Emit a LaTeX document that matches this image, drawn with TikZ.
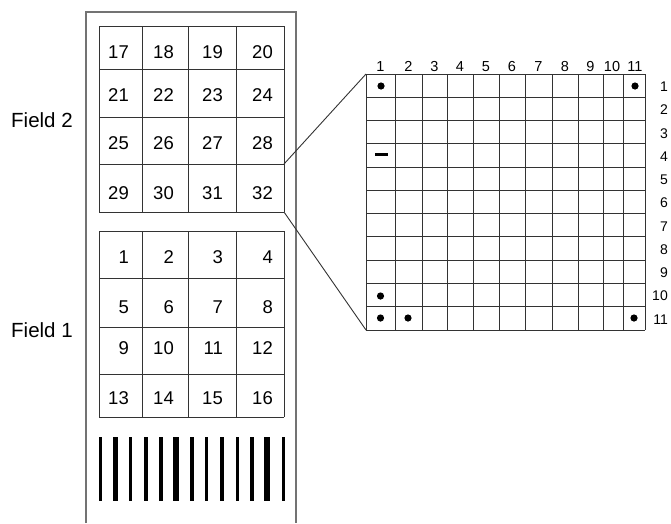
\documentclass[tikz,border=0pt]{standalone}
\usepackage{fontspec}
\setmainfont{Liberation Sans}
\begin{document}
\begin{tikzpicture}[x=1pt,y=-1pt,
  gridline/.style={draw=black!80,line width=0.9pt},
  slideline/.style={draw=black!55,line width=1.4pt},
  zoomline/.style={draw=black!80,line width=0.9pt},
  cellnum/.style={anchor=east,inner sep=0pt,font=\fontsize{18.5}{19}\selectfont},
  fieldlab/.style={anchor=west,inner sep=0pt,font=\fontsize{20.5}{21}\selectfont},
  collab/.style={inner sep=0pt,font=\fontsize{14.5}{15}\selectfont},
  rowlab/.style={anchor=east,inner sep=0pt,font=\fontsize{14}{15}\selectfont},
  spot/.style={fill=black},
  bar/.style={fill=black}]
\useasboundingbox (0,0) rectangle (671,523);
% slide outline (open bottom)
\draw[slideline] (86,523) -- (86,12) -- (296,12) -- (296,523);
% field 2 grid
\foreach \x in {99,142,188,236,284} \draw[gridline] (\x,26) -- (\x,212);
\foreach \y in {26,69,117,164,212} \draw[gridline] (99,\y) -- (284,\y);
% field 1 grid
\foreach \x in {99,142,188,236,284} \draw[gridline] (\x,231) -- (\x,417);
\foreach \y in {231,278,327,374,417} \draw[gridline] (99,\y) -- (284,\y);
% numbers field 2
\foreach \n/\y [count=\r] in {17/52,21/95,25/143,29/193}{
  \foreach \x [count=\c from 0] in {129,174,223,273}{
    \pgfmathtruncatemacro{\v}{\n+\c}
    \node[cellnum] (f2n\v) at (\x,\y) {\v};
  }
}
% numbers field 1
\foreach \n/\y in {1/257,5/307,9/348,13/398}{
  \foreach \x [count=\c from 0] in {129,174,223,273}{
    \pgfmathtruncatemacro{\v}{\n+\c}
    \node[cellnum] (f1n\v) at (\x,\y) {\v};
  }
}
\node[fieldlab] (field2) at (11,120) {Field 2};
\node[fieldlab] (field1) at (11,330) {Field 1};
% barcode
\foreach \cx/\w [count=\i] in {100.7/2.7,115.3/5.3,130.7/2.7,146/4,161/4,176/5.3,191.7/4,206.7/3.3,222/4.7,237.3/3.3,252.3/4,267.3/6,283.3/3.3}
  \fill[bar] (\cx-\w/2,437) rectangle (\cx+\w/2,501);
% big grid
\def\gtop{74}\def\gbot{330}
\foreach \x in {366,395,422,447,473,499,525,552,578,603,623,645} \draw[gridline] (\x,\gtop) -- (\x,\gbot);
\foreach \i in {0,...,11} \draw[gridline] (366,{74+\i*23.2727}) -- (645,{74+\i*23.2727});
% column labels
\foreach \cx [count=\i] in {380.5,408.5,434.5,460,486,512,538.5,565,590.5,612,635}
  \node[collab] (col\i) at (\cx,66.5) {\i};
% row labels
\foreach \i in {1,...,11}
  \node[rowlab] (row\i) at (668,{74+(\i-0.5)*23.2727+1}) {\i};
% marks
\fill[spot] (381,86) circle (3.6);
\fill[spot] (635,86) circle (3.6);
\fill[spot] (380.5,296) circle (3.6);
\fill[spot] (380.5,318) circle (3.6);
\fill[spot] (408,318) circle (3.6);
\fill[spot] (634,318) circle (3.6);
\fill[black] (374.5,152.5) rectangle (388,156);
% zoom connectors
\coordinate (srcA) at (284,164);
\coordinate (srcB) at (284,212);
\coordinate (dstA) at (366,74);
\coordinate (dstB) at (366,330);
\draw[zoomline] (srcA) -- (dstA);
\draw[zoomline] (srcB) -- (dstB);
\end{tikzpicture}
\end{document}
